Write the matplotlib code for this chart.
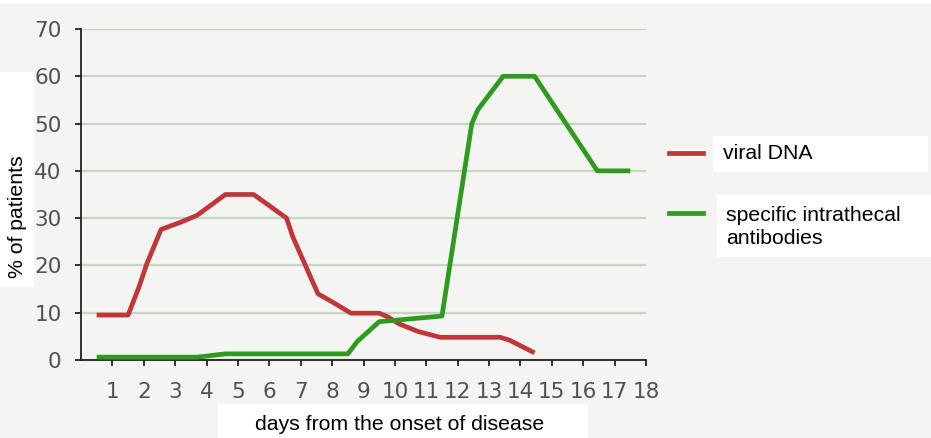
import matplotlib
matplotlib.use("Agg")
import matplotlib.pyplot as plt
from matplotlib.patches import Rectangle
from matplotlib.lines import Line2D
from matplotlib import font_manager

# ---- data ----
viral_days = [0.5, 1.5, 1.85, 2.1, 2.55, 3.2, 3.7, 4.6, 5.5, 6.3, 6.55, 6.75,
              7.55, 8.0, 8.6, 9.5, 9.75, 10.15, 10.75, 11.45, 13.35, 13.65, 14.45]
viral_pct = [9.5, 9.5, 15.5, 20.4, 27.6, 29.2, 30.6, 35, 35, 31.2, 30, 26,
             14, 12.3, 9.9, 9.9, 9.2, 7.6, 6.0, 4.8, 4.8, 4.2, 1.5]

ab_days = [0.5, 3.7, 4.6, 8.5, 8.8, 9.5, 11.5, 12.45, 12.65, 13.45, 14.45, 16.45, 17.5]
ab_pct = [0.6, 0.6, 1.3, 1.3, 3.9, 8.1, 9.3, 50, 53, 60, 60, 40, 40]

x_ticks = list(range(1, 19))
y_ticks = [0, 10, 20, 30, 40, 50, 60, 70]
series_labels = ["viral DNA", "specific intrathecal\nantibodies"]
x_label = "days from the onset of disease"
y_label = "% of patients"

RED = "#c0363a"
GREEN = "#2e9a1e"
BG = "#f4f4f2"
GRID = "#c6d6c2"
TICKC = "#555050"

names = {f.name for f in font_manager.fontManager.ttflist}
TICKFONT = "Liberation Sans Narrow" if "Liberation Sans Narrow" in names else "DejaVu Sans"

W, H = 931, 438
fig = plt.figure(figsize=(W / 100, H / 100), dpi=100, facecolor=BG)

def fx(px):
    return px / W

def fy(py):
    return 1 - py / H

ax = fig.add_axes([fx(81), fy(360), fx(646) - fx(81), fy(29) - fy(360)])
ax.set_facecolor(BG)
ax.set_xlim(0, 18)
ax.set_ylim(0, 70)

ax.plot(viral_days, viral_pct, color=RED, lw=3.4, solid_joinstyle="round",
        solid_capstyle="butt", zorder=3)
ax.plot(ab_days, ab_pct, color=GREEN, lw=3.4, solid_joinstyle="round",
        solid_capstyle="butt", zorder=3)

ax.set_yticks(y_ticks)
ax.set_xticks(x_ticks)
ax.yaxis.grid(True, color=GRID, lw=1.6)
ax.set_axisbelow(True)
for s in ["top", "right"]:
    ax.spines[s].set_visible(False)
for s in ["left", "bottom"]:
    ax.spines[s].set_color("#222222")
    ax.spines[s].set_linewidth(1.3)
ax.tick_params(axis="both", colors="#222222", length=4, width=1.3,
               labelcolor=TICKC, labelsize=15.5)
ax.tick_params(axis="x", pad=12)
ax.tick_params(axis="y", pad=10)
for lab in ax.get_xticklabels() + ax.get_yticklabels():
    lab.set_fontfamily(TICKFONT)

# top thin white strip
fig.patches.append(Rectangle((0, fy(3)), 1, 1 - fy(3), transform=fig.transFigure,
                             facecolor="white", edgecolor="none", zorder=0))

# y label box
fig.patches.append(Rectangle((fx(0), fy(287)), fx(34), fy(72) - fy(287),
                             transform=fig.transFigure, facecolor="white",
                             edgecolor="none", zorder=1))
fig.text(fx(17.5), fy(217), y_label, rotation=90, ha="center", va="center",
         fontsize=15.3, family="Liberation Sans", color="black")

# x label box
fig.patches.append(Rectangle((fx(218), fy(438)), fx(588) - fx(218), fy(404) - fy(438),
                             transform=fig.transFigure, facecolor="white",
                             edgecolor="none", zorder=1))
fig.text(fx(400), fy(424), x_label, ha="center", va="center",
         fontsize=15.3, family="Liberation Sans", color="black")

# legend boxes
fig.patches.append(Rectangle((fx(713), fy(172)), fx(928) - fx(713), fy(136) - fy(172),
                             transform=fig.transFigure, facecolor="white",
                             edgecolor="none", zorder=1))
fig.patches.append(Rectangle((fx(717), fy(257)), fx(931) - fx(717), fy(195) - fy(257),
                             transform=fig.transFigure, facecolor="white",
                             edgecolor="none", zorder=1))
fig.add_artist(Line2D([fx(669), fx(703)], [fy(153), fy(153)], color=RED, lw=3.4,
                      transform=fig.transFigure))
fig.add_artist(Line2D([fx(669), fx(703)], [fy(213), fy(213)], color=GREEN, lw=3.4,
                      transform=fig.transFigure))
fig.text(fx(723), fy(154), series_labels[0], ha="left", va="center",
         fontsize=15.3, family="Liberation Sans", color="black")
fig.text(fx(726), fy(227), series_labels[1], ha="left", va="center",
         fontsize=15.3, family="Liberation Sans", color="black", linespacing=1.3)

fig.savefig("out.png", dpi=100, facecolor=BG)
